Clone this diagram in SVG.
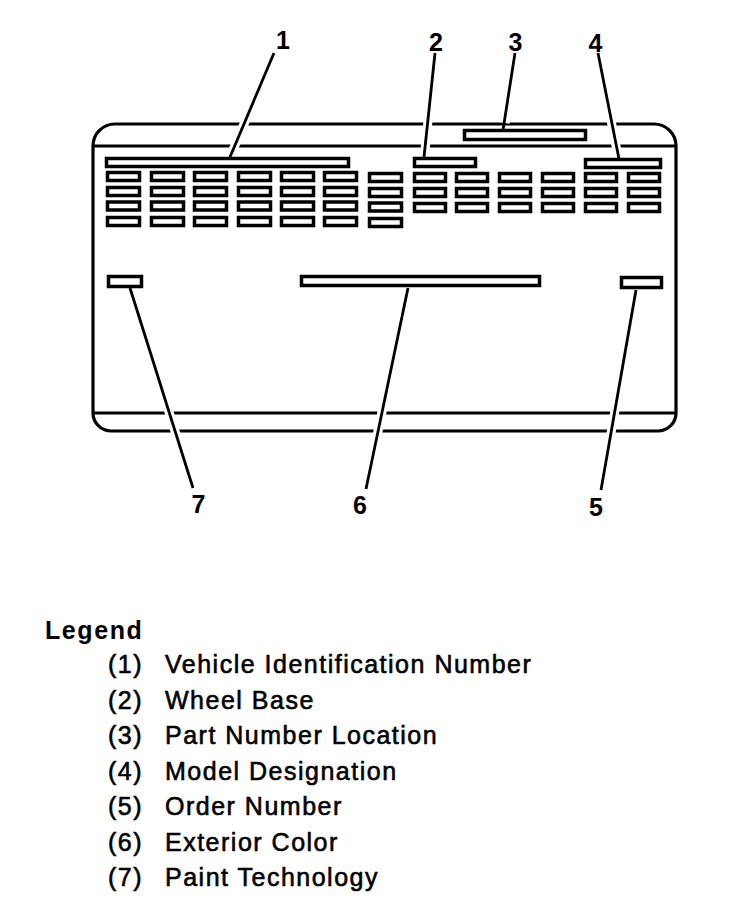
<svg xmlns="http://www.w3.org/2000/svg" width="736" height="900" viewBox="0 0 736 900">
<style>
.plate{fill:none;stroke:#000;stroke-width:3.2;stroke-linejoin:round}
.box{fill:#fff;stroke:#000;stroke-width:3.5;}
.cell{fill:#fff;stroke:#000;stroke-width:3.5;}
.halo{stroke:#fff;stroke-width:9;fill:none}
.lead{stroke:#000;stroke-width:2.8;fill:none}
.num{font-family:"Liberation Sans",Arial,sans-serif;font-weight:bold;font-size:25px;text-anchor:middle;fill:#000}
.leg{font-family:"Liberation Sans",Arial,sans-serif;font-size:25px;letter-spacing:1.5px;fill:#000;stroke:#000;stroke-width:0.6}
.legh{font-family:"Liberation Sans",Arial,sans-serif;font-weight:bold;font-size:25px;letter-spacing:1.6px;fill:#000}
</style>
<rect width="736" height="900" fill="#fff"/>
<g id="plate">
<path class="plate" d="M93,413 L93,146 A22,22 0 0 1 115,124 L654,124 A22,22 0 0 1 676,146 L676,413 A18,18 0 0 1 658,431 L111,431 A18,18 0 0 1 93,413 Z"/>
<path class="plate" d="M93,146 H676 M93,413 H676"/>
</g>
<g id="connectors-halo">
<line class="halo" x1="274" y1="53" x2="233" y2="150"/>
<line class="halo" x1="435" y1="53" x2="425" y2="150"/>
<line class="halo" x1="515" y1="53" x2="505" y2="123"/>
<line class="halo" x1="598" y1="53" x2="617" y2="151"/>
<line class="halo" x1="132" y1="295" x2="193" y2="488"/>
<line class="halo" x1="406" y1="296" x2="366" y2="489"/>
<line class="halo" x1="635" y1="297" x2="601" y2="490"/>
</g>
<g id="cells">
<g id="grid-left">
<rect class="cell" x="107.5" y="172.5" width="32" height="8"/><rect class="cell" x="107.5" y="187.5" width="32" height="8"/><rect class="cell" x="107.5" y="202" width="32" height="8"/><rect class="cell" x="107.5" y="217.5" width="32" height="8"/>
<rect class="cell" x="151.5" y="172.5" width="32" height="8"/><rect class="cell" x="151.5" y="187.5" width="32" height="8"/><rect class="cell" x="151.5" y="202" width="32" height="8"/><rect class="cell" x="151.5" y="217.5" width="32" height="8"/>
<rect class="cell" x="194.5" y="172.5" width="32" height="8"/><rect class="cell" x="194.5" y="187.5" width="32" height="8"/><rect class="cell" x="194.5" y="202" width="32" height="8"/><rect class="cell" x="194.5" y="217.5" width="32" height="8"/>
<rect class="cell" x="238.5" y="172.5" width="32" height="8"/><rect class="cell" x="238.5" y="187.5" width="32" height="8"/><rect class="cell" x="238.5" y="202" width="32" height="8"/><rect class="cell" x="238.5" y="217.5" width="32" height="8"/>
<rect class="cell" x="281.5" y="172.5" width="32" height="8"/><rect class="cell" x="281.5" y="187.5" width="32" height="8"/><rect class="cell" x="281.5" y="202" width="32" height="8"/><rect class="cell" x="281.5" y="217.5" width="32" height="8"/>
<rect class="cell" x="324.5" y="172.5" width="32" height="8"/><rect class="cell" x="324.5" y="187.5" width="32" height="8"/><rect class="cell" x="324.5" y="202" width="32" height="8"/><rect class="cell" x="324.5" y="217.5" width="32" height="8"/>
<rect class="cell" x="369.5" y="173.5" width="32" height="8"/><rect class="cell" x="369.5" y="188.5" width="32" height="8"/><rect class="cell" x="369.5" y="203" width="32" height="8"/><rect class="cell" x="369.5" y="218.5" width="32" height="8"/>
</g>
<g id="grid-right">
<rect class="cell" x="414.5" y="173.5" width="31" height="8"/><rect class="cell" x="414.5" y="188.5" width="31" height="8"/><rect class="cell" x="414.5" y="203.5" width="31" height="8"/>
<rect class="cell" x="456.5" y="173.5" width="31" height="8"/><rect class="cell" x="456.5" y="188.5" width="31" height="8"/><rect class="cell" x="456.5" y="203.5" width="31" height="8"/>
<rect class="cell" x="499.5" y="173.5" width="31" height="8"/><rect class="cell" x="499.5" y="188.5" width="31" height="8"/><rect class="cell" x="499.5" y="203.5" width="31" height="8"/>
<rect class="cell" x="542.5" y="173.5" width="31" height="8"/><rect class="cell" x="542.5" y="188.5" width="31" height="8"/><rect class="cell" x="542.5" y="203.5" width="31" height="8"/>
<rect class="cell" x="585.5" y="173.5" width="31" height="8"/><rect class="cell" x="585.5" y="188.5" width="31" height="8"/><rect class="cell" x="585.5" y="203.5" width="31" height="8"/>
<rect class="cell" x="628.5" y="173.5" width="31" height="8"/><rect class="cell" x="628.5" y="188.5" width="31" height="8"/><rect class="cell" x="628.5" y="203.5" width="31" height="8"/>
</g>
</g>
<g id="node-1"><rect class="box" x="106.5" y="158.5" width="242" height="8"/></g>
<g id="node-2"><rect class="box" x="414.5" y="158.5" width="61" height="8"/></g>
<g id="node-3"><rect class="box" x="464.5" y="130.5" width="121" height="9"/></g>
<g id="node-4"><rect class="box" x="585.5" y="159.5" width="75" height="8"/></g>
<g id="node-7"><rect class="box" x="108.5" y="276.5" width="33" height="10"/></g>
<g id="node-6"><rect class="box" x="301.5" y="276.5" width="238" height="9"/></g>
<g id="node-5"><rect class="box" x="621.5" y="277.5" width="40" height="10"/></g>
<g id="connectors">
<line class="lead" x1="274" y1="53" x2="230" y2="157"/>
<line class="lead" x1="435" y1="53" x2="424" y2="157"/>
<line class="lead" x1="515" y1="53" x2="503" y2="130"/>
<line class="lead" x1="598" y1="53" x2="619" y2="159"/>
<line class="lead" x1="130" y1="288" x2="193" y2="488"/>
<line class="lead" x1="408" y1="288" x2="366" y2="489"/>
<line class="lead" x1="636" y1="290" x2="601" y2="490"/>
</g>
<g id="labels">
<text class="num" x="283" y="49">1</text>
<text class="num" x="436" y="51">2</text>
<text class="num" x="515.5" y="51">3</text>
<text class="num" x="595.5" y="52">4</text>
<text class="num" x="198.5" y="513">7</text>
<text class="num" x="360" y="514">6</text>
<text class="num" x="596" y="516">5</text>
</g>
<g id="legend">
<text class="legh" x="45" y="639">Legend</text>
<text class="leg" x="108" y="673">(1)</text><text class="leg" x="165" y="673">Vehicle Identification Number</text>
<text class="leg" x="108" y="708.5">(2)</text><text class="leg" x="165" y="708.5">Wheel Base</text>
<text class="leg" x="108" y="744">(3)</text><text class="leg" x="165" y="744">Part Number Location</text>
<text class="leg" x="108" y="779.5">(4)</text><text class="leg" x="165" y="779.5">Model Designation</text>
<text class="leg" x="108" y="815">(5)</text><text class="leg" x="165" y="815">Order Number</text>
<text class="leg" x="108" y="850.5">(6)</text><text class="leg" x="165" y="850.5">Exterior Color</text>
<text class="leg" x="108" y="886">(7)</text><text class="leg" x="165" y="886">Paint Technology</text>
</g>
</svg>
